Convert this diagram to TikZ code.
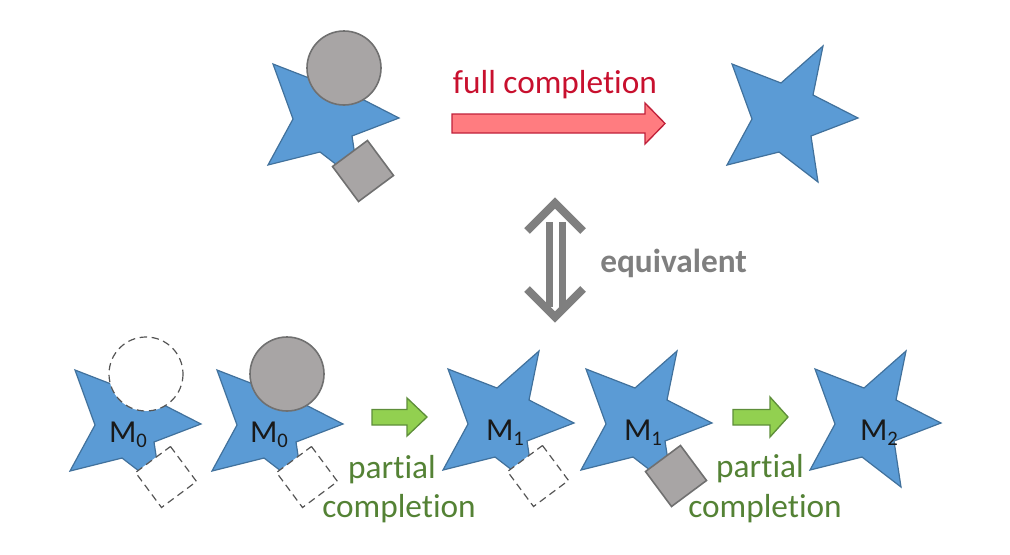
\documentclass[tikz,border=0pt]{standalone}
\usepackage{fontspec}
\setmainfont{Carlito}[Ligatures={NoCommon}]
\definecolor{starfill}{HTML}{5B9BD5}
\definecolor{stardraw}{HTML}{41719C}
\definecolor{partfill}{HTML}{A8A5A5}
\definecolor{partdraw}{HTML}{707070}
\definecolor{dashgray}{HTML}{555555}
\definecolor{redfill}{HTML}{FF7C80}
\definecolor{reddraw}{HTML}{C0203A}
\definecolor{redtext}{HTML}{C8102E}
\definecolor{greenfill}{HTML}{92D050}
\definecolor{greendraw}{HTML}{5E8E3A}
\definecolor{greentext}{HTML}{548235}
\definecolor{eqgray}{HTML}{7F7F7F}
\newcommand\subidx[1]{\raisebox{-3.75pt}{\fontsize{15.5}{16}\selectfont #1}}
\begin{document}
\begin{tikzpicture}[x=0.75pt,y=-0.75pt,
  starsty/.style={fill=starfill,draw=stardraw,line width=0.9pt,line join=miter},
  solidpart/.style={fill=partfill,draw=partdraw,line width=1.2pt},
  dashpart/.style={fill=white,draw=dashgray,line width=0.9pt,dash pattern=on 5.5pt off 3.5pt},
  redarrow/.style={fill=redfill,draw=reddraw,line width=1pt},
  greenarrow/.style={fill=greenfill,draw=greendraw,line width=1pt},
  eqbar/.style={draw=eqgray,line width=5.25pt},
  eqchev/.style={draw=eqgray,line width=6pt,line join=miter},
  redtxt/.style={text=redtext,font=\fontsize{25}{28}\selectfont,inner sep=0pt},
  graytxt/.style={text=eqgray,font=\bfseries\fontsize{25}{28}\selectfont,inner sep=0pt},
  greentxt/.style={text=greentext,font=\fontsize{25}{28}\selectfont,inner sep=0pt},
  mlbl/.style={text=black!90,font=\fontsize{24}{26}\selectfont,inner sep=0pt},
  mystar/.pic={\path[starsty] (0,0) -- (49,19) -- (91,-18) -- (81,31) -- (126,54) -- (79,72) -- (86,118) -- (47,88) -- (-5,101) -- (20,55) -- cycle;},
]
\useasboundingbox (0,0) rectangle (1010,554);

% ---- top row ----
\pic at (273,64) {mystar};
\path[solidpart] (344,68) circle[radius=37];
\path[solidpart] (363,171) ++(4.5,-30.5) -- ++(26,35) -- ++(-35,26) -- ++(-26,-35) -- cycle;

\pic at (732,64) {mystar};

\path[redarrow] (452,114) -- (645,114) -- (645,103) -- (665,123.5) -- (645,144) -- (645,133) -- (452,133) -- cycle;
\node[redtxt,anchor=base] (full) at (555,93) {full completion};

% ---- equivalent arrow ----
\path[eqbar] (549,222) -- (549,307);
\path[eqbar] (562,222) -- (562,307);
\path[eqchev] (527,231) -- (555,203) -- (583,231);
\path[eqchev] (527,289) -- (555,317) -- (583,289);
\node[graytxt,anchor=base west] (eq) at (600,272) {equivalent};

% ---- bottom row ----
\pic at (75,370) {mystar};
\path[dashpart] (146,374) circle[radius=37];
\path[dashpart] (166,477) ++(4.5,-30.5) -- ++(26,35) -- ++(-35,26) -- ++(-26,-35) -- cycle;
\node[mlbl,anchor=base] (m0a) at (128,442) {M\subidx{0}};

\pic at (217,370) {mystar};
\path[solidpart] (287,374) circle[radius=37];
\path[dashpart] (307,477) ++(4.5,-30.5) -- ++(26,35) -- ++(-35,26) -- ++(-26,-35) -- cycle;
\node[mlbl,anchor=base] (m0b) at (269,442) {M\subidx{0}};

\path[greenarrow] (372,409.5) -- (407,409.5) -- (407,398) -- (427,417) -- (407,436) -- (407,425) -- (372,425) -- cycle;
\node[greentxt,anchor=base] (p1) at (392,478) {partial};
\node[greentxt,anchor=base] (c1) at (399,517) {completion};

\pic at (448,369) {mystar};
\path[dashpart] (538,476) ++(4.5,-30.5) -- ++(26,35) -- ++(-35,26) -- ++(-26,-35) -- cycle;
\node[mlbl,anchor=base] (m1a) at (505,440) {M\subidx{1}};

\pic at (586,369) {mystar};
\path[solidpart] (676,476) ++(4.5,-30.5) -- ++(26,35) -- ++(-35,26) -- ++(-26,-35) -- cycle;
\node[mlbl,anchor=base] (m1b) at (643,440) {M\subidx{1}};

\path[greenarrow] (733,409.5) -- (770,409.5) -- (770,397) -- (788,417) -- (770,437) -- (770,425) -- (733,425) -- cycle;
\node[greentxt,anchor=base] (p2) at (760,477) {partial};
\node[greentxt,anchor=base] (c2) at (765,517) {completion};

\pic at (815,369) {mystar};
\node[mlbl,anchor=base] (m2) at (879,440) {M\subidx{2}};
\end{tikzpicture}
\end{document}
